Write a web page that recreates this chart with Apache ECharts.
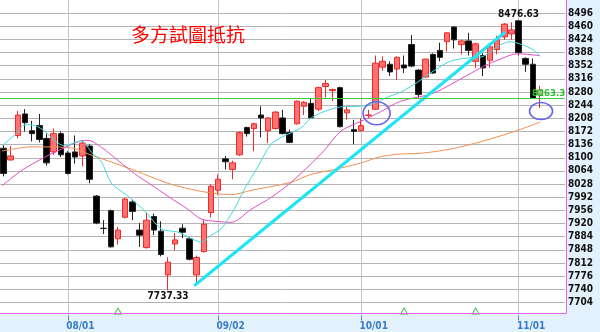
<!DOCTYPE html>
<html><head><meta charset="utf-8">
<script src="https://cdn.jsdelivr.net/npm/echarts@6/dist/echarts.min.js"></script>
<style>html,body{margin:0;padding:0;background:#e2f1fb}#c{width:600px;height:332px}</style>
</head><body><div id="c"></div>
<script>
// ---------- data ----------
const dates = ['07/19','07/22','07/23','07/24','07/25','07/26','07/29','07/30','07/31',
 '08/01','08/02','08/05','08/06','08/07','08/08','08/09','08/12','08/13','08/14','08/15','08/16','08/19','08/20','08/22','08/23','08/26','08/27','08/28','08/29','08/30',
 '09/02','09/03','09/04','09/05','09/06','09/09','09/10','09/11','09/12','09/13','09/14','09/16','09/17','09/18','09/23','09/24','09/25','09/26','09/27','09/30',
 '10/01','10/02','10/03','10/04','10/07','10/08','10/09','10/11','10/14','10/15','10/16','10/17','10/18','10/21','10/22','10/23','10/24','10/25','10/28','10/29','10/30','10/31',
 '11/01','11/04','11/05','11/06'];
const padDates = ['11/07','11/08','11/11'];
const tickLabels = ['08/01','09/02','10/01','11/01'];
const yMin = 7668, yMax = 8532, yStep = 36;

const openP  = [8126,8094,8161,8220,8174,8188,8153,8116,8166,8113,8116,8105,8132,7995,7907,7955,7878,7937,7979,7902,
  7854,7939,7899,7779,7864,7907,7878,7779,7843,7950,8011,8097,8068,8108,8183,8180,8217,8174,8180,8209,
  8169,8193,8241,8249,8233,8295,8284,8292,8223,8177,8174,8216,8233,8348,8356,8343,8354,8410,8340,8321,
  8383,8394,8418,8458,8410,8420,8364,8380,8367,8396,8431,8439,8475,8372,8356,8273];
const closeP = [8057,8105,8217,8196,8166,8150,8086,8166,8108,8057,8102,8140,8041,7921,7906,7856,7902,7987,7953,7888,
  7929,7902,7835,7814,7875,7896,7822,7827,7918,8022,8041,8089,8086,8169,8166,8193,8209,8209,8225,8166,
  8142,8255,8252,8209,8292,8303,8287,8185,8231,8172,8188,8217,8359,8364,8335,8375,8346,8351,8273,8370,
  8332,8375,8442,8423,8420,8394,8412,8346,8404,8423,8466,8450,8388,8356,8263,8284];
const lowP   = [8049,8092,8153,8172,8145,8142,8078,8108,8102,8054,8084,8076,8030,7918,7891,7854,7862,7934,7929,7856,
  7851,7888,7830,7737.33,7846,7880,7819,7757,7840,7937,7998,8068,8041,8105,8158,8118,8156,8140,8177,8164,
  8140,8191,8217,8207,8228,8265,8255,8183,8204,8137,8172,8207,8231,8338,8324,8313,8332,8348,8265,8319,
  8330,8364,8391,8399,8383,8380,8346,8324,8346,8383,8423,8423,8380,8335,8261,8236];
const highP  = [8134,8132,8228,8233,8201,8220,8166,8180,8172,8118,8161,8148,8137,7998,7929,7958,7910,7990,7985,7921,
  7950,7947,7926,7827,7894,7918,7883,7832,7931,8027,8054,8105,8092,8172,8185,8196,8241,8212,8228,8231,
  8177,8257,8255,8263,8295,8313,8289,8295,8241,8204,8209,8231,8380,8378,8364,8378,8380,8436,8343,8372,
  8386,8415,8444,8460,8423,8442,8415,8386,8410,8434,8469,8471,8476.63,8375,8372,8297];

// moving averages: [candle position, value]
const maShort = [[-0.24,8132.5],[1.62,8163.7],[3.01,8190.5],[4.4,8187.8],[5.8,8172.5],[7.19,8145.8],[8.58,8132.5],[9.98,8141.5],
  [10.91,8145.8],[12.3,8114.8],[13.7,8088.0],[15.09,8030.1],[17.42,7994.5],[19.73,7954.4],[22.06,7905.2],[24.38,7896.4],
  [26.24,7878.5],[27.63,7869.7],[29.02,7887.6],[30.42,7905.2],[32.23,7958.7],[33.62,8011.9],[35.53,8074.7],[37.38,8137.0],
  [39.2,8159.2],[41.56,8181.6],[42.96,8208.4],[44.77,8226.0],[47.14,8239.4],[49.92,8241.2],[51.73,8248.5],[53.68,8266.1],
  [55.5,8279.5],[57.82,8306.2],[60.09,8337.5],[62.46,8364.2],[64.83,8373.0],[67.06,8377.6],[69.43,8408.9],[70.82,8417.7],
  [72.22,8411.5],[74.03,8395.5],[75.0,8377.6]];
const maMid = [[-0.24,8022.8],[2.55,8065.6],[5.75,8101.5],[8.12,8123.6],[10.45,8144.2],[11.84,8147.7],[13.7,8128.2],[16.02,8092.3],
  [18.29,8056.8],[20.66,8025.5],[22.99,7994.5],[25.78,7958.7],[27.63,7932.0],[29.72,7925.8],[31.81,7923.1],[34.6,7958.7],
  [36.92,7985.5],[39.2,8016.7],[41.56,8056.8],[44.77,8118.9],[47.14,8172.6],[49.92,8199.3],[52.71,8226.0],[55.5,8254.6],
  [60.09,8277.0],[64.83,8326.0],[67.06,8350.0],[69.43,8370.0],[71.8,8384.8],[75.0,8379.5]];
const maLong = [[-0.24,8118.3],[3.94,8129.8],[9.06,8128.2],[11.84,8110.3],[18.29,8065.6],[22.99,8030.1],[27.63,8007.9],
  [31.81,7998.8],[34.6,8010.6],[40.17,8032.7],[42.96,8054.1],[46.16,8067.5],[49.92,8085.4],[52.71,8103.1],[55.5,8110.3],
  [58.28,8112.2],[62.46,8123.6],[67.06,8145.8],[71.8,8174.4],[75.0,8197.7]];

const trendLine = [[26.65,7749.4],[70.13,8444.4]];
const circleMarks = [[52.15,8221.7],[75.14,8227.9]];
const lastPrice = 8263.3;
const highIdx = 72, lowIdx = 23;
const signalIdx = [16,56,66];
const signalVal = 7680;
const titleText = '多方試圖抵抗';

// ---------- chart ----------
const FONT = "'DejaVu Sans Condensed','DejaVu Sans',sans-serif";
const chart = echarts.init(document.getElementById('c'), null, {renderer:'canvas'});
const cats = dates.concat(padDates);
const candleData = dates.map((d,i)=>[openP[i], closeP[i], lowP[i], highP[i]]);
const isTick = (i, v) => tickLabels.indexOf(v) >= 0;
const circleSize = [[13.5,11.5],[11.5,8.5]];
const signalColors = ['#f29090','#e070e0','#60d4e4'];
const lastIdx = dates.length - 1;

chart.setOption({
  animation: false,
  backgroundColor: '#e2f1fb',
  title: {text: titleText, left: 131, top: 25, padding: 0,
    textStyle: {color:'#ff0000', fontSize:19, fontWeight:'normal', fontFamily:"'Noto Sans CJK TC','Noto Sans CJK SC',sans-serif"}},
  graphic: [
    {type:'rect', z:-10, shape:{x:0,y:0,width:566,height:313}, style:{fill:'#ffffff'}},
    {type:'line', z:100, shape:{x1:566.5,y1:0,x2:566.5,y2:313.5}, style:{stroke:'#e466e4', lineWidth:1}},
    {type:'line', z:100, shape:{x1:0,y1:313.5,x2:566.5,y2:313.5}, style:{stroke:'#e466e4', lineWidth:1}}
  ],
  grid: {left: -1.89, right: 34.91, top: -7.77, bottom: 16.5},
  xAxis: [
    {type:'category', data: cats, boundaryGap: true,
     axisLine:{show:false},
     axisTick:{show:true, alignWithLabel:true, interval:isTick, length:5, lineStyle:{color:'#4a88c8'}},
     axisLabel:{interval:isTick, align:'center', padding:[0,0,0,25], margin:6, color:'#3a7cc4', fontWeight:'bold', fontSize:10, fontFamily:FONT},
     splitLine:{show:false}},
    {type:'value', min:-0.5, max: cats.length - 0.5, show:false}
  ],
  yAxis: {type:'value', position:'right', min:yMin, max:yMax, interval:yStep,
    axisLine:{show:false}, axisTick:{show:false},
    axisLabel:{margin:3, color:'#111', fontWeight:'bold', fontSize:10, fontFamily:FONT, showMinLabel:false, showMaxLabel:false,
      formatter:(v)=>String(v)},
    splitLine:{show:true, showMinLine:false, showMaxLine:false, lineStyle:{color:'#b4b4b4', width:1}}},
  series: [
    {type:'line', xAxisIndex:1, data:[], z:1, silent:true,
     markLine:{z:0, symbol:'none', silent:true, label:{show:false},
       lineStyle:{color:'#c4c4c4', width:1, type:'solid'},
       data: tickLabels.map(t => ({xAxis: dates.indexOf(t)}))}},
    {type:'candlestick', data: candleData, barWidth: 6, z:2,
     itemStyle:{color:'#ff7070', borderColor:'#ee2a2a', color0:'#000000', borderColor0:'#222222', borderWidth:1},
     markPoint:{symbol:'circle', symbolSize:0, silent:true,
       label:{show:true, color:'#111', fontWeight:'bold', fontSize:10, fontFamily:FONT, formatter:'{c}'},
       data:[
         {coord:[dates[highIdx], highP[highIdx]], value: highP[highIdx], label:{position:'top', distance:1}},
         {coord:[dates[lowIdx], lowP[lowIdx]], value: lowP[lowIdx], label:{position:'bottom', distance:1}}
       ]},
     markLine:{symbol:'none', silent:true,
       lineStyle:{color:'#3ccc3c', width:1, type:'solid'},
       label:{show:true, position:'insideEndTop', distance:[0,0], formatter: String(lastPrice), color:'#2cc02c', fontWeight:'bold', fontSize:9.5, fontFamily:FONT},
       data:[{yAxis:lastPrice}]}},
    {type:'line', xAxisIndex:1, data: maLong, smooth:0.3, symbol:'none', z:3, lineStyle:{color:'#f29050', width:1}},
    {type:'line', xAxisIndex:1, data: maMid, smooth:0.3, symbol:'none', z:3, lineStyle:{color:'#e64cc4', width:1}},
    {type:'line', xAxisIndex:1, data: maShort, smooth:0.3, symbol:'none', z:3, lineStyle:{color:'#44d8e0', width:1}},
    {type:'line', xAxisIndex:1, data: trendLine, symbol:'none', z:4, lineStyle:{color:'#1ee4f4', width:3}},
    {type:'scatter', data:[[lastIdx, (openP[lastIdx]+closeP[lastIdx])/2]],
     symbol:'rect', symbolSize:[5,5], z:5, itemStyle:{color:'#88dd88', borderColor:'#22aa22', borderWidth:1}},
    {type:'scatter', data: signalIdx.map(i=>[i, signalVal]), symbol:'triangle', symbolSize:[7,6], z:5,
     itemStyle:{color:'none', borderWidth:1, borderColor:(p)=>signalColors[p.dataIndex]}},
    {type:'custom', xAxisIndex:1, data: circleMarks, z:6,
     renderItem:(params, api)=>{
       const p = api.coord([api.value(0), api.value(1)]);
       const s = circleSize[params.dataIndex];
       return {type:'ellipse', shape:{cx:p[0], cy:p[1], rx:s[0], ry:s[1]}, style:{fill:null, stroke:'#6666ee', lineWidth:1.6}};
     }}
  ]
});
</script></body></html>
